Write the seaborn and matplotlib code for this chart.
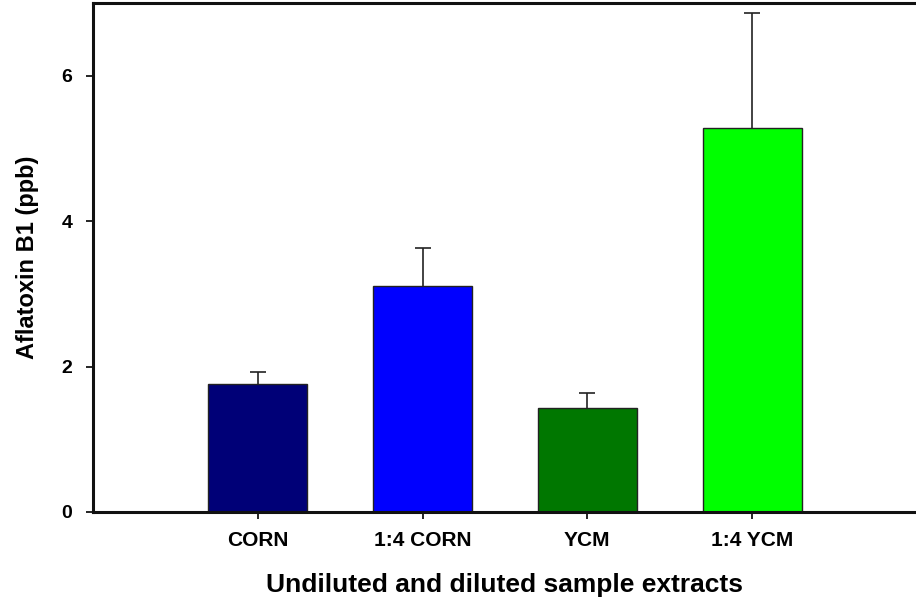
import matplotlib
matplotlib.use('Agg')
import matplotlib.pyplot as plt
import numpy as np
import seaborn as sns

samples = ['CORN', '1:4 CORN', 'YCM', '1:4 YCM']
means = [1.76, 3.11, 1.43, 5.28]
err_up = [0.17, 0.52, 0.20, 1.58]
colors = ['#000077', '#0000FF', '#007700', '#00FF00']

sns.set_style('ticks')
plt.rcParams['font.family'] = ['Liberation Sans', 'DejaVu Sans']
plt.rcParams['font.weight'] = 'bold'
plt.rcParams['text.color'] = 'black'
plt.rcParams['axes.labelcolor'] = 'black'
plt.rcParams['xtick.color'] = 'black'
plt.rcParams['ytick.color'] = 'black'

fig = plt.figure(figsize=(9.16, 6.03), dpi=100)
ax = fig.add_axes([93 / 916, 91 / 603, 1 - 93 / 916 + 0.001, 509 / 603])

sns.barplot(x=samples, y=means, hue=samples, palette=colors, legend=False,
            width=0.6, edgecolor='#222222', linewidth=1.0, saturation=1, ax=ax)
eb = ax.errorbar(np.arange(len(samples)), means, yerr=[np.zeros(len(means)), err_up],
                 fmt='none', ecolor='#222222', elinewidth=1.2, capsize=6, capthick=1.2)
# hide the lower caps (they sit on top of the bars)
eb[1][0].set_visible(False)

ax.set_xlim(-1.0, 4.0)
ax.set_ylim(0, 7)
ax.set_yticks([0, 2, 4, 6])
ax.set_xlabel('Undiluted and diluted sample extracts', fontsize=19, fontweight='bold', labelpad=16)
ax.set_ylabel('Aflatoxin B1 (ppb)', fontsize=17, fontweight='bold', labelpad=16)
ax.tick_params(axis='x', labelsize=15, length=5, width=1.2, direction='out', pad=9)
ax.tick_params(axis='y', labelsize=14, length=5, width=1.2, direction='out', pad=10)
for lab in ax.get_xticklabels() + ax.get_yticklabels():
    lab.set_fontweight('bold')

for side in ['left', 'bottom', 'top']:
    ax.spines[side].set_linewidth(2.2)
    ax.spines[side].set_color('#111111')
ax.spines['right'].set_linewidth(1.0)
ax.spines['right'].set_color('#bbbbbb')

fig.savefig('out.png', dpi=100)
